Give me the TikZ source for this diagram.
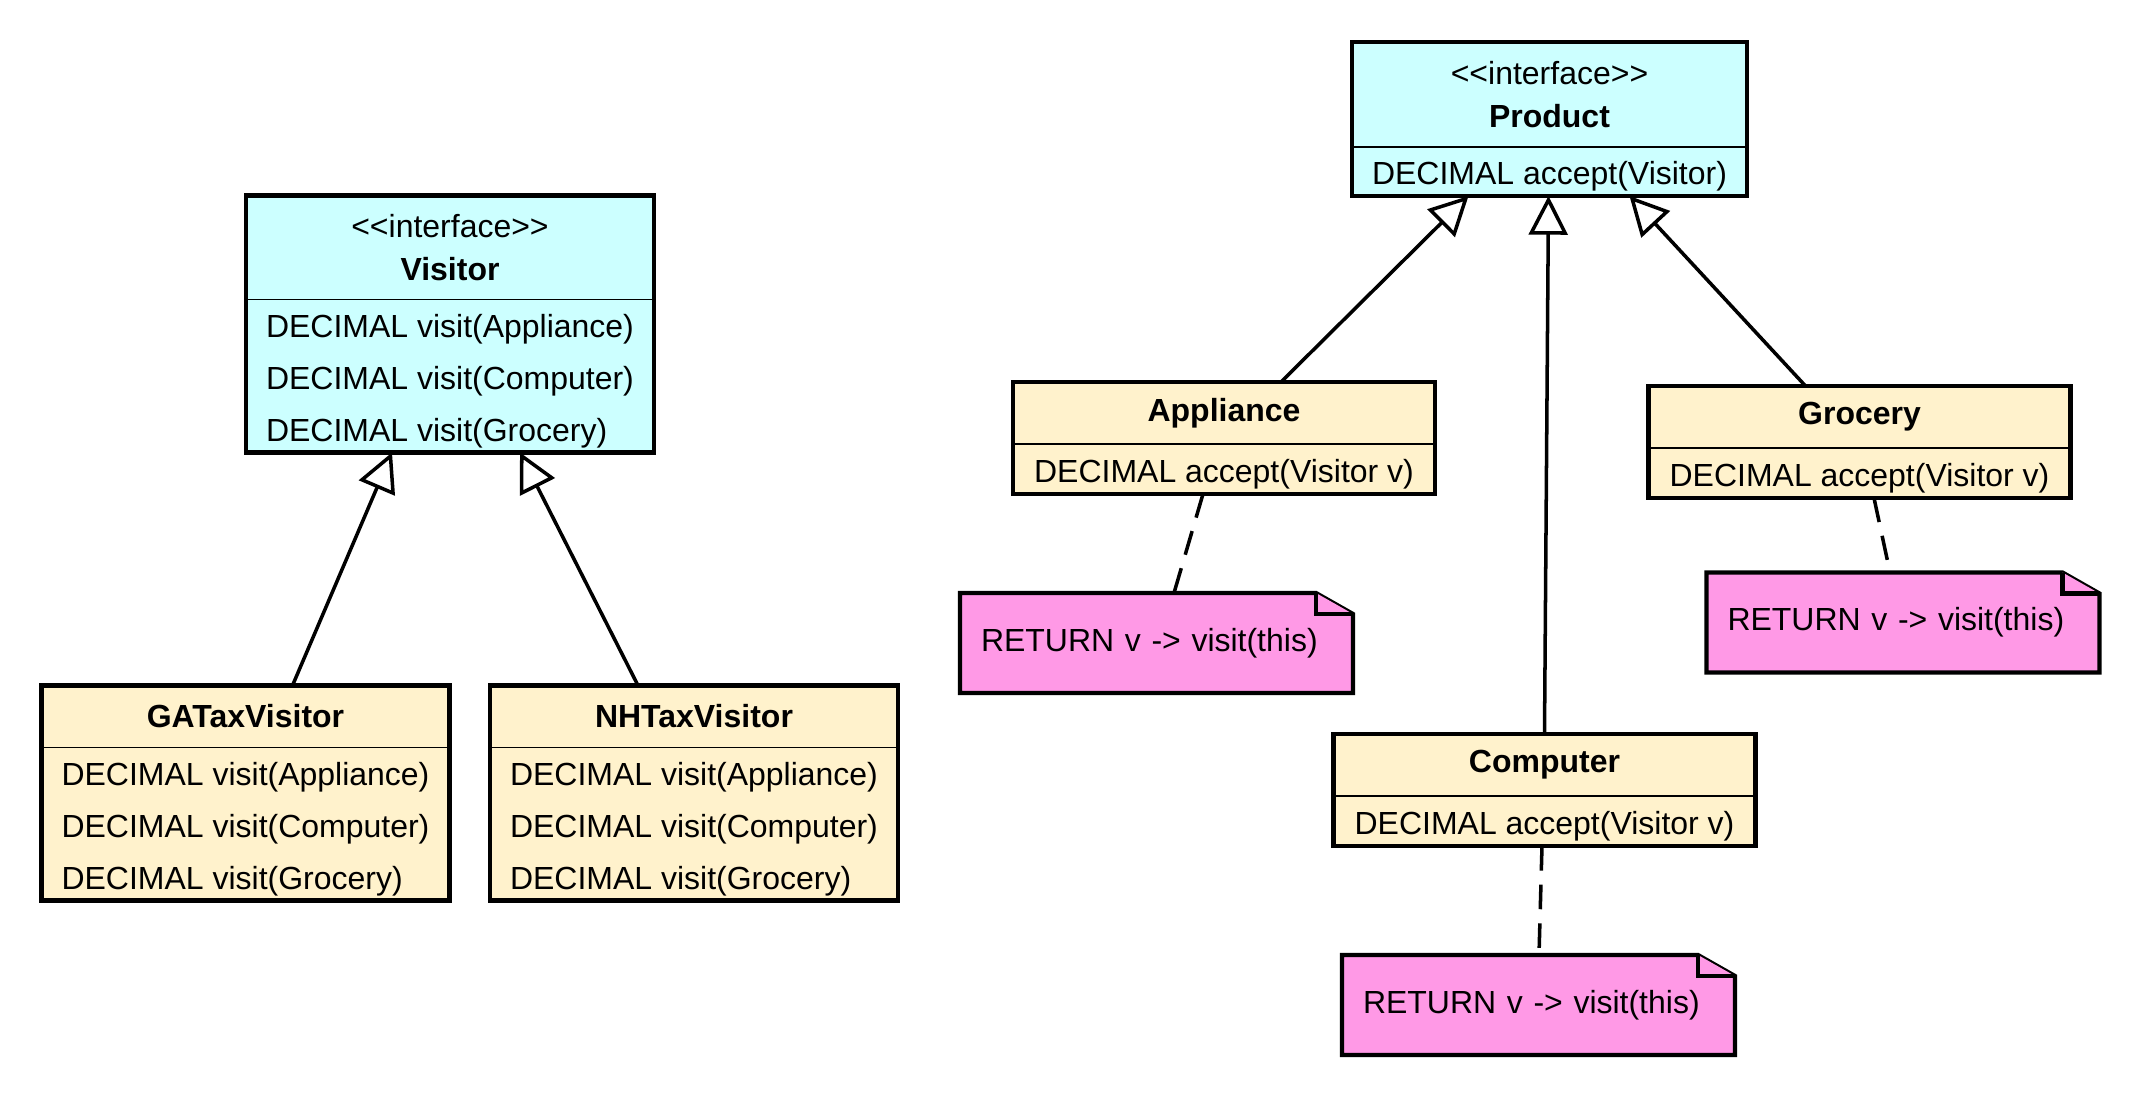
\documentclass[tikz,border=0pt]{standalone}
\usepackage{fontspec}
\setmainfont{Liberation Sans}
\usetikzlibrary{positioning,arrows.meta,backgrounds}

\definecolor{ifacecyan}{HTML}{CCFFFF}
\definecolor{classcream}{HTML}{FFF2CC}
\definecolor{notepink}{HTML}{FF99E6}

\newcommand{\stereo}[1]{<\kern0pt<#1>\kern0pt>}
\newcommand{\opstrut}{\rule{0pt}{9.3pt}}

\tikzset{
  classhead/.style={fill=classcream, outer sep=0pt, inner sep=0pt, align=center,
    font=\fontsize{9.1}{12.2}\selectfont\bfseries, minimum height=0.62cm},
  iface/.style={classhead, fill=ifacecyan, font=\fontsize{9.1}{12.2}\selectfont, minimum height=1.04cm},
  classops/.style={fill=classcream, outer sep=0pt, inner sep=0pt, align=left,
    font=\fontsize{9.1}{14.8}\selectfont},
  ifaceops/.style={classops, fill=ifacecyan},
  note/.style={outer sep=0pt, inner sep=0pt, inner xsep=0.21cm, text width=3.51cm,
    minimum height=1.0cm, align=left, font=\fontsize{9.1}{12}\selectfont},
  boxline/.style={line width=1.2pt},
  divline/.style={line width=0.45pt},
  noteline/.style={line width=1.2pt, fill=notepink},
  gen/.style={->, line width=1pt},
  anchorline/.style={line width=1pt, dash pattern=on 7pt off 4pt}
}

\begin{document}
\begin{tikzpicture}[>={Triangle[open,length=11pt,width=11pt]}]
  \useasboundingbox (0,0) rectangle (21.41,-10.97);

  % visitor side
  \node[iface, minimum width=4.08cm] (visitor) at (4.50,-2.475)
    {\stereo{interface}\\\textbf{Visitor}};
  \node[ifaceops, minimum width=4.08cm, minimum height=1.53cm, below=0pt of visitor] (visitor-ops)
    {\opstrut DECIMAL visit(Appliance)\\DECIMAL visit(Computer)\\DECIMAL visit(Grocery)};

  \node[classhead, minimum width=4.08cm] (gatax) at (2.455,-7.165) {GATaxVisitor};
  \node[classops, minimum width=4.08cm, minimum height=1.53cm, below=0pt of gatax] (gatax-ops)
    {\opstrut DECIMAL visit(Appliance)\\DECIMAL visit(Computer)\\DECIMAL visit(Grocery)};

  \node[classhead, minimum width=4.08cm] (nhtax) at (6.94,-7.165) {NHTaxVisitor};
  \node[classops, minimum width=4.08cm, minimum height=1.53cm, below=0pt of nhtax] (nhtax-ops)
    {\opstrut DECIMAL visit(Appliance)\\DECIMAL visit(Computer)\\DECIMAL visit(Grocery)};

  % product side
  \node[iface, minimum width=3.95cm, minimum height=1.05cm] (product) at (15.495,-0.945)
    {\stereo{interface}\\\textbf{Product}};
  \node[ifaceops, minimum width=3.95cm, minimum height=0.49cm, below=0pt of product] (product-ops)
    {\opstrut DECIMAL accept(Visitor)};

  \node[classhead, minimum width=4.22cm] (appliance) at (12.24,-4.13) {Appliance};
  \node[classops, minimum width=4.22cm, minimum height=0.5cm, below=0pt of appliance] (appliance-ops)
    {\opstrut DECIMAL accept(Visitor v)};

  \node[classhead, minimum width=4.22cm] (grocery) at (18.595,-4.17) {Grocery};
  \node[classops, minimum width=4.22cm, minimum height=0.5cm, below=0pt of grocery] (grocery-ops)
    {\opstrut DECIMAL accept(Visitor v)};

  \node[classhead, minimum width=4.22cm] (computer) at (15.445,-7.65) {Computer};
  \node[classops, minimum width=4.22cm, minimum height=0.5cm, below=0pt of computer] (computer-ops)
    {\opstrut DECIMAL accept(Visitor v)};

  % notes
  \node[note] (appnote) at (11.565,-6.43) {RETURN v -> visit(this)};
  \node[note] (grocnote) at (19.03,-6.225) {RETURN v -> visit(this)};
  \node[note] (compnote) at (15.385,-10.05) {RETURN v -> visit(this)};

  \begin{scope}[on background layer]
    \foreach \n in {appnote,grocnote,compnote} {
      \filldraw[noteline] (\n.south west) -- (\n.north west) -- ([xshift=-0.37cm]\n.north east)
        -- ([yshift=-0.21cm]\n.north east) -- (\n.south east) -- cycle;
      \draw[noteline] ([xshift=-0.37cm]\n.north east) |- ([yshift=-0.21cm]\n.north east);
    }
  \end{scope}

  % class outlines
  \foreach \c in {visitor,gatax,nhtax,product,appliance,grocery,computer} {
    \draw[boxline] (\c.north west) rectangle (\c-ops.south east);
    \draw[divline] (\c.south west) -- (\c.south east);
  }

  % generalisations
  \draw[gen] ([xshift=0.47cm]gatax.north) -- ([xshift=-0.58cm]visitor-ops.south);
  \draw[gen] ([xshift=-0.56cm]nhtax.north) -- ([xshift=0.70cm]visitor-ops.south);
  \draw[gen] ([xshift=0.57cm]appliance.north) -- ([xshift=-0.81cm]product-ops.south);
  \draw[gen] (computer.north) -- ([xshift=-0.01cm]product-ops.south);
  \draw[gen] ([xshift=-0.54cm]grocery.north) -- ([xshift=0.80cm]product-ops.south);

  % note anchors
  \draw[anchorline] ([xshift=-0.21cm]appliance-ops.south) -- ([xshift=0.175cm]appnote.north);
  \draw[anchorline] ([xshift=0.145cm]grocery-ops.south) -- ([xshift=-0.13cm]grocnote.north);
  \draw[anchorline] ([xshift=-0.025cm]computer-ops.south) -- ([xshift=0.005cm]compnote.north);
\end{tikzpicture}
\end{document}
